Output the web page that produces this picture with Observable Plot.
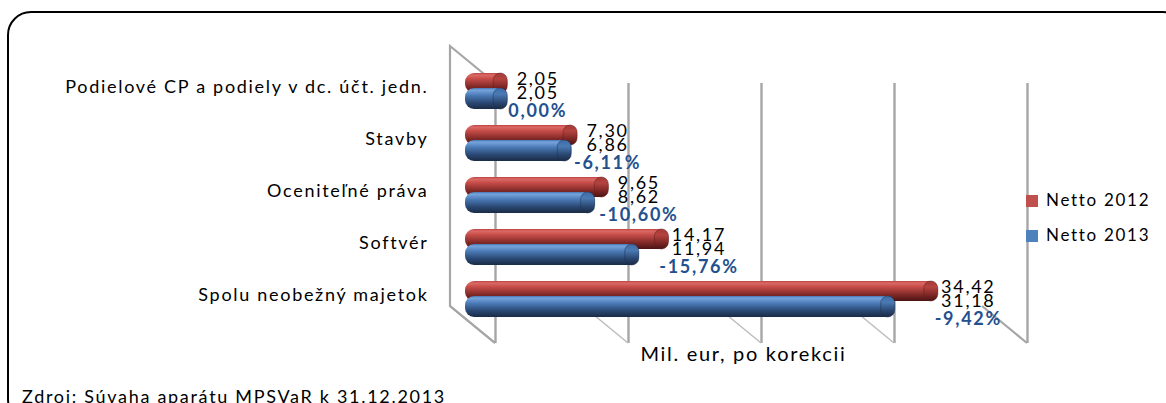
<!DOCTYPE html>
<html><head><meta charset="utf-8">
<script src="https://cdn.jsdelivr.net/npm/d3@7"></script>
<script src="https://cdn.jsdelivr.net/npm/@observablehq/plot@0.6"></script>
<style>
body{margin:0;background:#fff;font-family:Lato,"Open Sans",sans-serif;}
#wrap{position:relative;width:1166px;height:403px;overflow:hidden;background:#fff;letter-spacing:1.7px;}
#wrap svg.plot{position:absolute;left:0;top:0;}
#wrap svg text{letter-spacing:1.7px;}
#frame{position:absolute;left:7px;top:11px;width:1180px;height:412px;border:2px solid #000;border-radius:24px;box-sizing:border-box;}
#src{position:absolute;left:22px;top:385px;font-size:18px;color:#000;white-space:nowrap;}
#legend{position:absolute;left:1026px;top:182px;font-size:17px;color:#000;line-height:35px;white-space:nowrap;}
#legend .sw{display:inline-block;width:12px;height:12px;margin-right:8px;vertical-align:-1px;}
</style></head>
<body>
<div id="wrap">
  <div id="frame"></div>
  <div id="src"></div>
  <div id="legend"></div>
</div>
<script>
const categories = ["Podielové CP a podiely v dc. účt. jedn.", "Stavby", "Oceniteľné práva", "Softvér", "Spolu neobežný majetok"];
const netto2012 = [2.05, 7.30, 9.65, 14.17, 34.42];
const netto2013 = [2.05, 6.86, 8.62, 11.94, 31.18];
const changePct = [0.00, -6.11, -10.60, -15.76, -9.42];
const xTicks = [0, 10, 20, 30, 40];
const seriesNames = ["Netto 2012", "Netto 2013"];
const seriesColors = ["#c0504d", "#4f81bd"];
const axisTitle = "Mil. eur, po korekcii";
const sourceText = "Zdroj: Súvaha aparátu MPSVaR k 31.12.2013";

const rows = categories.map((c, i) => ({cat: c, a: netto2012[i], b: netto2013[i], p: changePct[i]}));
const fmt = v => d3.format(".2f")(v).replace(".", ",").replace("−", "-");
const fmtP = v => (v === 0 ? "0,00" : fmt(v)) + "%";

const defsMark = () => {
  const defs = d3.create("svg:defs");
  const mk = (id, stops, horiz) => {
    const g = defs.append("linearGradient").attr("id", id)
      .attr("x1", 0).attr("y1", 0).attr("x2", horiz ? 1 : 0).attr("y2", horiz ? 0 : 1);
    stops.forEach(([o, c]) => g.append("stop").attr("offset", o).attr("stop-color", c));
  };
  mk("gRed", [[0, "#b8423f"], [0.1, "#dc6a66"], [0.3, "#c44b47"], [0.65, "#862c2a"], [1, "#4a1413"]]);
  mk("gBlue", [[0, "#4677b6"], [0.1, "#77a4dc"], [0.35, "#4a7ab6"], [0.7, "#2a4873"], [1, "#1a2b45"]]);
  mk("gRedCap", [[0, "#a53a37"], [0.3, "#b4433f"], [0.7, "#7c2624"], [1, "#4a1413"]]);
  mk("gBlueCap", [[0, "#3f6ca6"], [0.3, "#4a7ab4"], [0.7, "#2a4670"], [1, "#1a2b45"]]);
  return defs.node();
};

const wallsMark = (index, scales, values, dims) => {
  const x = scales.x;
  const top = dims.marginTop, bottom = dims.height - dims.marginBottom;
  const ddx = 45, ddy = 37;
  const g = d3.create("svg:g").attr("fill", "none");
  const x0 = x(xTicks[0]);
  g.append("path")
    .attr("d", `M${x0},${top}L${x0 - ddx},${top - ddy}L${x0 - ddx},${bottom - ddy}L${x0},${bottom}`)
    .attr("stroke", "#a6a6a6").attr("stroke-width", 2.2);
  xTicks.forEach((t, i) => {
    const xx = x(t);
    const edge = i === 0 || i === xTicks.length - 1;
    g.append("line").attr("x1", xx - ddx).attr("y1", bottom - ddy).attr("x2", xx).attr("y2", bottom)
      .attr("stroke", edge ? "#a6a6a6" : "#bdbdbd")
      .attr("stroke-width", edge ? 2.2 : 1.5);
  });
  return g.node();
};

const chart = Plot.plot({
  width: 1166,
  height: 403,
  marginLeft: 495,
  marginRight: 139,
  marginTop: 83,
  marginBottom: 60,
  x: {domain: [0, 40], axis: null},
  y: {domain: categories, range: [64, 325], padding: 0, axis: null},
  style: {fontFamily: "Lato, 'Open Sans', sans-serif", background: "transparent", overflow: "visible"},
  marks: [
    defsMark,
    Plot.ruleX(xTicks, {stroke: "#a6a6a6", strokeWidth: 2.4}),
    wallsMark,
    Plot.barX(rows, {x: "a", y: "cat", fill: "url(#gRed)", insetTop: 8, insetBottom: 24, insetLeft: -15, dx: -15, rx: 9}),
    Plot.barX(rows, {x1: "a", x2: "a", y: "cat", fill: "url(#gRedCap)", stroke: "#5e1c1b", strokeWidth: 0.8, strokeOpacity: 0.6, insetTop: 8, insetBottom: 24, insetLeft: -14, dx: -15, rx: 7}),
    Plot.barX(rows, {x: "b", y: "cat", fill: "url(#gBlue)", insetTop: 23, insetBottom: 8, insetLeft: -15, dx: -15, rx: 9}),
    Plot.barX(rows, {x1: "b", x2: "b", y: "cat", fill: "url(#gBlueCap)", stroke: "#1c2e4a", strokeWidth: 0.8, strokeOpacity: 0.6, insetTop: 23, insetBottom: 8, insetLeft: -14, dx: -15, rx: 7}),
    Plot.text(rows, {y: "cat", text: "cat", frameAnchor: "left", textAnchor: "end", dx: -67, dy: -4, fontSize: 18, fill: "#000"}),
    Plot.text(rows, {x: "a", y: "cat", text: d => fmt(d.a), textAnchor: "middle", dx: 15, dy: -12, fontSize: 18, fill: "#000"}),
    Plot.text(rows, {x: "a", y: "cat", text: d => fmt(d.b), textAnchor: "middle", dx: 15, dy: 2, fontSize: 18, fill: "#000"}),
    Plot.text(rows, {x: "a", y: "cat", text: d => fmtP(d.p), textAnchor: "middle", dx: 15, dy: 20, fontSize: 18, fontWeight: "bold", fill: "#23508f"}),
    Plot.text([axisTitle], {text: d => d, frameAnchor: "bottom", dx: -18, dy: 17, fontSize: 20, fill: "#000"})
  ]
});
document.getElementById("wrap").appendChild(chart);

document.getElementById("src").textContent = sourceText;
const legend = d3.select("#legend");
seriesNames.forEach((n, i) => {
  const row = legend.append("div");
  row.append("span").attr("class", "sw").style("background", seriesColors[i]);
  row.append("span").text(n);
});
</script>
</body></html>
